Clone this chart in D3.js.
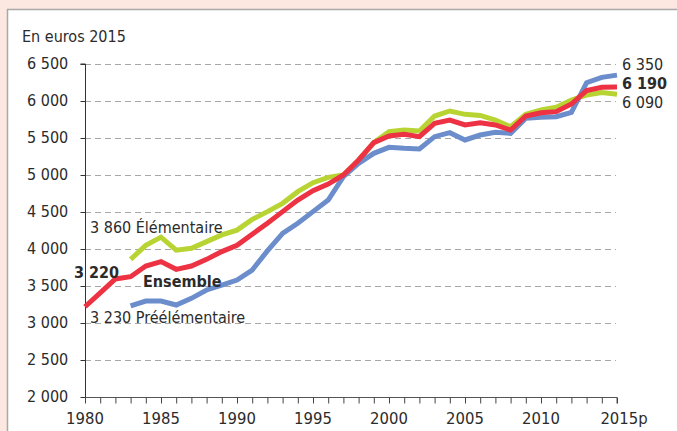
<!DOCTYPE html>
<html><head><meta charset="utf-8">
<script src="https://cdn.jsdelivr.net/npm/d3@7"></script>
<style>
html,body{margin:0;padding:0;background:#fde7e1;}
svg{display:block;}
text{font-family:"Liberation Sans Narrow","DejaVu Sans Condensed","Roboto Condensed",sans-serif;fill:#2b2b2b;}
</style></head><body>
<svg id="c" width="677" height="431"></svg>
<script>
const years = d3.range(1980, 2016);
const ensemble = [3220,3408,3595,3626,3770,3830,3725,3770,3860,3965,4050,4200,4347,4505,4662,4788,4878,5000,5203,5437,5527,5550,5518,5698,5743,5676,5707,5676,5608,5797,5842,5856,5959,6140,6185,6190];
const elementaire = [null,null,null,3860,4050,4160,3985,4010,4100,4190,4255,4400,4505,4617,4775,4896,4968,5000,5200,5437,5585,5608,5595,5797,5865,5820,5805,5743,5653,5820,5878,5915,6014,6081,6113,6090];
const preelementaire = [null,null,null,3230,3297,3297,3243,3333,3446,3513,3581,3716,3975,4212,4347,4505,4662,4977,5158,5293,5374,5360,5351,5518,5572,5473,5540,5577,5563,5766,5780,5788,5847,6247,6320,6350];
const yTicks = [2000,2500,3000,3500,4000,4500,5000,5500,6000,6500];
const xLabels = [1980,1985,1990,1995,2000,2005,2010,2015];

const svg = d3.select("#c");
// panel
svg.append("rect").attr("x",7.5).attr("y",9.5).attr("width",700).attr("height",440)
  .attr("fill","#fff").attr("stroke","#a9a9a9").attr("stroke-width",1.5);

const x = d3.scaleLinear().domain([1980,2015]).range([85,617]);
const y = d3.scaleLinear().domain([2000,6500]).range([397,64]);
const fmt = v => d3.format(",")(v).replace(/,/g," ");

// gridlines
svg.append("g").selectAll("line").data(yTicks.filter(d=>d>2000)).join("line")
  .attr("x1",85).attr("x2",616).attr("y1",d=>y(d)+0.5).attr("y2",d=>y(d)+0.5)
  .attr("stroke","#a8a8a8").attr("stroke-width",1.2).attr("stroke-dasharray","6,4");

// y axis
const ya = d3.axisLeft(y).tickValues(yTicks).tickSize(5).tickFormat("");
const gy = svg.append("g").attr("transform","translate(85.5,0)").call(ya);
gy.select(".domain").attr("stroke","#333").attr("d","M-5,"+y(6500)+"H0V"+y(2000));
gy.selectAll(".tick line").attr("stroke","#333");
svg.append("g").selectAll("text").data(yTicks).join("text")
  .attr("x",27).attr("y",d=>y(d)+5).attr("font-size",16).text(fmt);

// x axis
const xa = d3.axisBottom(x).tickValues(years).tickSize(6).tickFormat("");
const gx = svg.append("g").attr("transform","translate(0,397.5)").call(xa);
gx.select(".domain").attr("stroke","#555").attr("d","M"+x(1980)+",0H"+x(2015)+"V6");
gx.selectAll(".tick line").attr("stroke","#444");
svg.append("g").selectAll("text").data(xLabels).join("text")
  .attr("x",d=>x(d)+(d===2015?7:0)).attr("y",424).attr("text-anchor","middle").attr("font-size",16.5)
  .text(d=>d===2015?"2015p":d);

svg.append("text").attr("x",22).attr("y",42).attr("font-size",16).text("En euros 2015");

const line = d3.line().defined(d=>d[1]!=null).x(d=>x(d[0])).y(d=>y(d[1]));
const series = [
  {vals:elementaire,color:"#b8d433"},
  {vals:preelementaire,color:"#6b8dcb"},
  {vals:ensemble,color:"#ec3243"}
];
series.forEach(s=>{
  svg.append("path").datum(years.map((yr,i)=>[yr,s.vals[i]]))
    .attr("d",line).attr("fill","none").attr("stroke",s.color)
    .attr("stroke-width",5).attr("stroke-linejoin","miter");
});

// labels
svg.append("text").attr("x",622).attr("y",70).attr("font-size",16).text(fmt(preelementaire[35]));
svg.append("text").attr("x",622).attr("y",89).attr("font-size",16).attr("font-weight","bold").text(fmt(ensemble[35]));
svg.append("text").attr("x",622).attr("y",108).attr("font-size",16).text(fmt(elementaire[35]));

svg.append("text").attr("x",90).attr("y",233).attr("font-size",16).text(fmt(elementaire[3])+" Élémentaire");
svg.append("text").attr("x",74).attr("y",278).attr("font-size",16).attr("font-weight","bold").text(fmt(ensemble[0]));
svg.append("text").attr("x",143).attr("y",287).attr("font-size",16).attr("font-weight","bold").text("Ensemble");
svg.append("text").attr("x",90).attr("y",323).attr("font-size",16).text(fmt(preelementaire[3])+" Préélémentaire");
</script>
</body></html>
